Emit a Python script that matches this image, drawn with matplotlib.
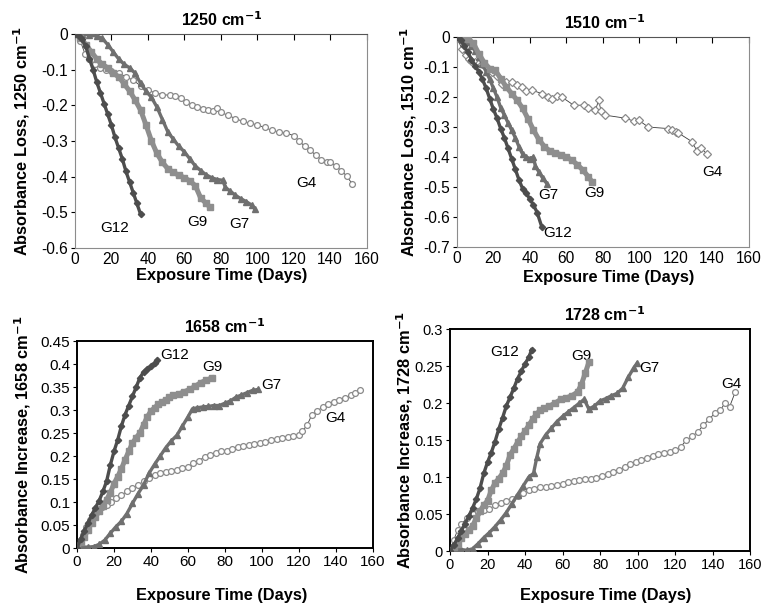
import matplotlib
matplotlib.use("Agg")
import matplotlib.pyplot as plt
from matplotlib.ticker import FormatStrFormatter, MultipleLocator

plt.rcParams['font.family'] = ['Liberation Sans', 'DejaVu Sans']
plt.rcParams['axes.unicode_minus'] = False

# ---- 1250 cm-1 (absorbance loss) ----
a_g12_x = [0, 2, 4, 6, 8, 10, 12, 14, 16, 18, 20, 22, 24, 26, 28, 30, 32, 34, 36]
a_g12_y = [0, -0.005, -0.015, -0.035, -0.07, -0.10, -0.135, -0.165, -0.195, -0.225,
           -0.255, -0.29, -0.32, -0.35, -0.385, -0.415, -0.445, -0.475, -0.505]
a_g9_x = [0, 3, 6, 9, 12, 15, 18, 21, 24, 27, 30, 33, 36, 39, 42, 45, 48, 51, 54, 57,
          60, 63, 66, 69, 72, 74]
a_g9_y = [0, -0.01, -0.03, -0.05, -0.07, -0.085, -0.095, -0.11, -0.12, -0.14, -0.16,
          -0.185, -0.213, -0.255, -0.3, -0.335, -0.36, -0.378, -0.388, -0.396, -0.403,
          -0.412, -0.425, -0.46, -0.475, -0.485]
a_g7_x = [0, 4, 8, 12, 15, 18, 21, 24, 27, 30, 33, 36, 39, 42, 45, 48, 51, 54, 57, 60,
          63, 66, 69, 72, 75, 78, 81, 82.5, 85, 88, 91, 94, 97, 98.5]
a_g7_y = [0, 0, -0.003, -0.006, -0.012, -0.03, -0.05, -0.07, -0.085, -0.095, -0.11,
          -0.138, -0.16, -0.178, -0.205, -0.24, -0.275, -0.295, -0.315, -0.33, -0.35,
          -0.37, -0.383, -0.395, -0.403, -0.408, -0.41, -0.43, -0.44, -0.452, -0.462,
          -0.47, -0.48, -0.49]
a_g4_x = [0, 3, 5.5, 8, 11, 14, 17, 20, 24, 28, 32, 36, 40, 44, 48, 52, 55, 58, 61, 64,
          67, 70, 73, 76, 78, 80, 84, 88, 92, 96, 100, 104, 108, 112, 116, 120, 123, 126,
          129, 132, 135, 138, 140, 143, 146, 149, 152]
a_g4_y = [0, -0.02, -0.055, -0.07, -0.085, -0.095, -0.1, -0.105, -0.11, -0.12, -0.13,
          -0.145, -0.158, -0.165, -0.17, -0.172, -0.175, -0.18, -0.19, -0.2, -0.205,
          -0.21, -0.213, -0.215, -0.208, -0.22, -0.228, -0.237, -0.245, -0.25, -0.255,
          -0.262, -0.27, -0.275, -0.278, -0.285, -0.3, -0.315, -0.325, -0.34, -0.352,
          -0.36, -0.358, -0.37, -0.383, -0.398, -0.42]

# ---- 1510 cm-1 (absorbance loss) ----
b_g12_x = [0, 2, 4, 6, 8, 10, 12, 14, 16, 18, 20, 22, 24, 26, 28, 30, 32, 34, 36, 38,
           40, 42, 44, 46.5]
b_g12_y = [0, -0.01, -0.03, -0.05, -0.075, -0.095, -0.115, -0.14, -0.17, -0.205, -0.24,
           -0.27, -0.305, -0.335, -0.37, -0.405, -0.44, -0.475, -0.505, -0.52, -0.54,
           -0.56, -0.585, -0.632]
b_g7_x = [0, 2, 4, 6, 8, 10, 12, 14, 16, 18, 20, 22, 24, 26, 28, 30, 32, 34, 36, 38, 40,
          42, 43, 45, 47, 49.5]
b_g7_y = [0, -0.005, -0.01, -0.015, -0.03, -0.045, -0.065, -0.09, -0.115, -0.14, -0.17,
          -0.2, -0.235, -0.26, -0.285, -0.31, -0.335, -0.365, -0.39, -0.4, -0.405, -0.4,
          -0.43, -0.45, -0.47, -0.49]
b_g9_x = [0, 3, 6, 9, 12, 15, 18, 21, 24, 27, 30, 33, 36, 39, 42, 45, 48, 51, 54, 57,
          60, 63, 66, 69, 72, 74]
b_g9_y = [0, -0.002, -0.005, -0.02, -0.055, -0.085, -0.105, -0.11, -0.138, -0.165,
          -0.188, -0.21, -0.237, -0.272, -0.31, -0.342, -0.365, -0.38, -0.386, -0.392,
          -0.4, -0.41, -0.425, -0.443, -0.465, -0.482]
b_g4_x = [0, 2.7, 5, 6.4, 8, 10, 12, 13.7, 16, 19, 22, 24.7, 27, 30, 33, 35.6, 38, 41,
          46.6, 50, 52, 55, 57.6, 64, 69.5, 72, 76, 77.7, 79, 81, 92, 97, 99.6, 105, 116,
          118, 120, 121.5, 129, 131.6, 134, 137]
b_g4_y = [0, -0.039, -0.06, -0.072, -0.08, -0.083, -0.085, -0.089, -0.1, -0.116, -0.13,
          -0.155, -0.15, -0.15, -0.16, -0.166, -0.18, -0.177, -0.188, -0.2, -0.205,
          -0.195, -0.2, -0.227, -0.227, -0.235, -0.244, -0.21, -0.245, -0.26, -0.27,
          -0.28, -0.277, -0.3, -0.305, -0.31, -0.315, -0.32, -0.349, -0.38, -0.37, -0.39]

# ---- 1658 cm-1 (absorbance increase) ----
c_g12_x = [0, 2, 4, 6, 8, 10, 12, 14, 16, 18, 20, 22, 24, 26, 28, 30, 32, 34, 36, 38,
           40, 42, 43.5]
c_g12_y = [0, 0.02, 0.038, 0.055, 0.072, 0.088, 0.103, 0.123, 0.145, 0.18, 0.21, 0.235,
           0.265, 0.29, 0.31, 0.33, 0.35, 0.37, 0.383, 0.39, 0.395, 0.402, 0.408]
c_g9_x = [0, 2, 4, 6, 8, 10, 12, 14, 16, 18, 20, 22, 24, 26, 28, 30, 32, 34, 36, 38, 40,
          42, 44, 46, 48, 50, 52, 55, 58, 61, 64, 67, 70, 73]
c_g9_y = [0, 0.012, 0.025, 0.04, 0.055, 0.068, 0.08, 0.092, 0.105, 0.12, 0.14, 0.155,
          0.172, 0.192, 0.21, 0.228, 0.24, 0.25, 0.268, 0.285, 0.298, 0.305, 0.313,
          0.318, 0.322, 0.328, 0.333, 0.335, 0.34, 0.345, 0.352, 0.36, 0.365, 0.37]
c_g7_x = [0, 3, 6, 9, 12, 15, 18, 21, 24, 27, 30, 33, 36, 39, 42, 45, 48, 51, 54, 57, 60,
          62.5, 65, 68, 71, 74, 77, 80, 83, 86, 89, 92, 95, 98]
c_g7_y = [0, 0.002, 0.002, 0.003, 0.008, 0.017, 0.032, 0.046, 0.058, 0.075, 0.097,
          0.118, 0.137, 0.163, 0.182, 0.2, 0.218, 0.233, 0.245, 0.265, 0.285, 0.303,
          0.305, 0.307, 0.308, 0.31, 0.31, 0.315, 0.32, 0.328, 0.333, 0.338, 0.343, 0.345]
c_g4_x = [0, 2, 3.5, 5, 7, 9, 11, 13.5, 16, 18.5, 21, 24, 27, 30, 33, 36, 39, 42, 45, 48,
          51, 54, 57, 60, 63, 66, 69, 72, 75, 78, 81, 84, 87, 90, 93, 96, 99, 102, 105,
          108, 111, 114, 117, 120, 122, 124.5, 127, 130, 133, 136, 139, 142, 145, 148,
          150.5, 153]
c_g4_y = [0, 0.01, 0.028, 0.045, 0.062, 0.075, 0.085, 0.09, 0.094, 0.1, 0.108, 0.115,
          0.123, 0.13, 0.137, 0.145, 0.152, 0.158, 0.163, 0.165, 0.167, 0.17, 0.173,
          0.177, 0.184, 0.19, 0.198, 0.203, 0.207, 0.21, 0.212, 0.216, 0.219, 0.222,
          0.224, 0.226, 0.228, 0.231, 0.235, 0.237, 0.24, 0.242, 0.244, 0.246, 0.255,
          0.267, 0.289, 0.298, 0.307, 0.313, 0.318, 0.322, 0.326, 0.332, 0.338, 0.343]

# ---- 1728 cm-1 (absorbance increase) ----
d_g12_x = [0, 2, 4, 6, 8, 10, 12, 14, 16, 18, 20, 22, 24, 26, 28, 30, 32, 34, 36, 38,
           40, 42, 43.5]
d_g12_y = [0, 0.008, 0.017, 0.027, 0.037, 0.047, 0.058, 0.07, 0.085, 0.105, 0.12, 0.133,
           0.148, 0.165, 0.18, 0.196, 0.208, 0.22, 0.233, 0.243, 0.253, 0.262, 0.272]
d_g9_x = [0, 2, 4, 6, 8, 10, 12, 14, 16, 18, 20, 22, 24, 26, 28, 30, 32, 34, 36, 38, 40,
          42, 44, 46, 48, 50, 53, 56, 59, 62, 65, 68, 70, 72, 74]
d_g9_y = [0, 0.005, 0.01, 0.017, 0.023, 0.028, 0.034, 0.044, 0.054, 0.062, 0.068, 0.082,
          0.092, 0.098, 0.105, 0.115, 0.13, 0.138, 0.147, 0.155, 0.162, 0.17, 0.178,
          0.185, 0.19, 0.193, 0.196, 0.2, 0.205, 0.207, 0.21, 0.215, 0.225, 0.24, 0.255]
d_g7_x = [0, 3, 6, 9, 12, 15, 18, 21, 24, 27, 30, 33, 36, 39, 42, 44.5, 46.3, 48, 51, 54,
          57, 60, 63, 66, 69, 71.5, 74, 77, 80, 83, 86, 89, 92, 95, 98, 99.7]
d_g7_y = [0, 0.003, 0.002, 0.001, 0.003, 0.01, 0.018, 0.025, 0.033, 0.042, 0.052, 0.064,
          0.076, 0.088, 0.1, 0.105, 0.127, 0.145, 0.157, 0.166, 0.175, 0.182, 0.188,
          0.194, 0.2, 0.205, 0.192, 0.196, 0.203, 0.206, 0.21, 0.213, 0.22, 0.235, 0.248,
          0.254]
d_g4_x = [0, 2, 4, 6, 9, 12, 15, 18, 21, 24, 27, 30, 33, 36, 39, 42, 45, 48, 51, 54, 57,
          60, 63, 66, 69, 72, 75, 78, 81, 84, 87, 90, 93, 96, 99, 102, 105, 108, 111, 114,
          117, 120, 123, 126, 129, 132, 135, 138, 141, 144, 146.5, 149, 152]
d_g4_y = [0, 0.015, 0.028, 0.037, 0.044, 0.05, 0.053, 0.055, 0.057, 0.062, 0.065, 0.068,
          0.071, 0.075, 0.079, 0.082, 0.084, 0.086, 0.087, 0.088, 0.089, 0.091, 0.093,
          0.094, 0.096, 0.098, 0.098, 0.099, 0.101, 0.104, 0.107, 0.11, 0.113, 0.117,
          0.12, 0.123, 0.126, 0.128, 0.131, 0.132, 0.134, 0.136, 0.141, 0.15, 0.155,
          0.161, 0.17, 0.178, 0.186, 0.19, 0.2, 0.195, 0.215]

fig = plt.figure(figsize=(7.64, 6.03), dpi=100)

ax1 = fig.add_axes([0.098, 0.5887, 0.382, 0.355])
ax2 = fig.add_axes([0.598, 0.5904, 0.382, 0.348])
ax3 = fig.add_axes([0.1008, 0.0912, 0.387, 0.343])
ax4 = fig.add_axes([0.589, 0.0862, 0.393, 0.368])

C12, C9, C7, C4 = '#4d4d4d', '#8e8e8e', '#6f6f6f', '#8a8a8a'


def draw(ax, g12, g9, g7, g4, g4marker='o'):
    ax.plot(g4[0], g4[1], color='#3a3a3a', lw=0.6, marker=g4marker, ms=4.2,
            mfc='white', mec=C4, mew=0.9, zorder=2)
    ax.plot(g7[0], g7[1], color=C7, lw=2.4, marker='^', ms=4.8, mec=C7, zorder=3)
    ax.plot(g9[0], g9[1], color=C9, lw=3.6, marker='s', ms=4.3, mec=C9, zorder=4)
    ax.plot(g12[0], g12[1], color=C12, lw=2.4, marker='D', ms=3.2, mec=C12, zorder=5)


draw(ax1, (a_g12_x, a_g12_y), (a_g9_x, a_g9_y), (a_g7_x, a_g7_y), (a_g4_x, a_g4_y))
draw(ax2, (b_g12_x, b_g12_y), (b_g9_x, b_g9_y), (b_g7_x, b_g7_y), (b_g4_x, b_g4_y), 'D')
draw(ax3, (c_g12_x, c_g12_y), (c_g9_x, c_g9_y), (c_g7_x, c_g7_y), (c_g4_x, c_g4_y))
draw(ax4, (d_g12_x, d_g12_y), (d_g9_x, d_g9_y), (d_g7_x, d_g7_y), (d_g4_x, d_g4_y))

lab = dict(fontsize=11, ha='center', va='center')
ax1.text(22, -0.544, 'G12', **lab)
ax1.text(67, -0.527, 'G9', **lab)
ax1.text(90, -0.533, 'G7', **lab)
ax1.text(127, -0.418, 'G4', **lab)
ax2.text(50, -0.527, 'G7', **lab)
ax2.text(75.6, -0.52, 'G9', **lab)
ax2.text(55, -0.653, 'G12', **lab)
ax2.text(140, -0.45, 'G4', **lab)
ax3.text(53, 0.42, 'G12', **lab)
ax3.text(73.5, 0.393, 'G9', **lab)
ax3.text(105, 0.354, 'G7', **lab)
ax3.text(140, 0.283, 'G4', **lab)
ax4.text(29, 0.269, 'G12', **lab)
ax4.text(70, 0.264, 'G9', **lab)
ax4.text(106, 0.247, 'G7', **lab)
ax4.text(150, 0.226, 'G4', **lab)

panels = [
    (ax1, '1250', 'Absorbance Loss', (-0.6, 0), 0.1, True),
    (ax2, '1510', 'Absorbance Loss', (-0.7, 0), 0.1, True),
    (ax3, '1658', 'Absorbance Increase', (0, 0.45), 0.05, False),
    (ax4, '1728', 'Absorbance Increase', (0, 0.3), 0.05, False),
]
ylab_x = [-0.147, -0.13, -0.149, -0.118]
xlab = [(0.503, -0.093), (0.52, -0.11), (0.49, -0.193), (0.52, -0.165)]
title_x = [0.503, 0.507, 0.5, 0.515]
tick_fs = [11.2, 11.2, 11, 10.5]

for i, (ax, wn, kind, ylim, step, loss) in enumerate(panels):
    ax.set_xlim(0, 160)
    ax.set_ylim(*ylim)
    ax.xaxis.set_major_locator(MultipleLocator(20))
    ax.yaxis.set_major_locator(MultipleLocator(step))
    ax.yaxis.set_major_formatter(FormatStrFormatter('%g'))
    ax.tick_params(labelsize=tick_fs[i], length=3, width=0.8, pad=2)
    if loss:
        ax.xaxis.set_ticks_position('top')
        ax.tick_params(axis='x', direction='in', labeltop=False, labelbottom=True,
                       length=4, pad=3)
        for s in ax.spines.values():
            s.set_color('#8c8c8c')
            s.set_linewidth(0.8)
        ax.spines['top'].set_color('#555555')
    else:
        for s in ax.spines.values():
            s.set_color('black')
            s.set_linewidth(1.4)
    ax.set_title(wn + r' cm$^{\mathbf{-1}}$', fontsize=11.5, fontweight='bold',
                 x=title_x[i], pad=6)
    ax.set_ylabel(kind + ', ' + wn + r' cm$^{\mathbf{-1}}$', fontsize=11.8,
                  fontweight='bold')
    ax.yaxis.set_label_coords(ylab_x[i], 0.5)
    ax.set_xlabel('Exposure Time (Days)', fontsize=11.8, fontweight='bold')
    ax.xaxis.set_label_coords(*xlab[i])

fig.savefig('out.png', dpi=100)
